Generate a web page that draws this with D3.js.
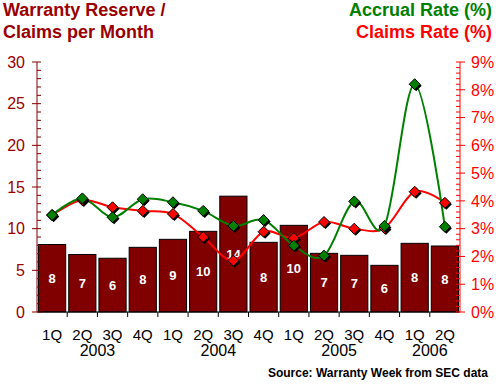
<!DOCTYPE html>
<html>
<head>
<meta charset="utf-8">
<script src="https://cdn.jsdelivr.net/npm/d3@7"></script>
<style>
body { margin: 0; background: #fff; }
svg { display: block; font-family: "Liberation Sans", Arial, sans-serif; }
</style>
</head>
<body>
<div id="chart"></div>
<script>
// data
var quarters = ["1Q","2Q","3Q","4Q","1Q","2Q","3Q","4Q","1Q","2Q","3Q","4Q","1Q","2Q"];
var years = ["2003","2004","2005","2006"];
var yearFirst = [0, 4, 8, 12];
var yearLast = [3, 7, 11, 13];
var reserveMonths = [8.1, 6.9, 6.45, 7.76, 8.72, 9.68, 13.9, 8.36, 10.4, 7.04, 6.8, 5.6, 8.24, 7.92];
var accrualRate = [3.49, 4.09, 3.41, 4.06, 3.95, 3.64, 3.10, 3.31, 2.39, 2.03, 3.98, 3.10, 8.20, 3.07];
var claimsRate = [3.49, 4.03, 3.77, 3.64, 3.53, 2.70, 1.85, 2.89, 2.66, 3.24, 3.00, 3.02, 4.33, 3.93];
var leftTicks = [0, 5, 10, 15, 20, 25, 30];
var rightTicks = [0, 1, 2, 3, 4, 5, 6, 7, 8, 9];

var width = 500, height = 385;
var plotLeft = 37, plotRight = 460, plotTop = 62, plotBottom = 312;

var svg = d3.select('#chart').append('svg')
  .attr("width", width)
  .attr("height", height);

var x = d3.scaleBand()
  .domain(d3.range(quarters.length))
  .range([plotLeft, plotRight])
  .paddingInner(0.1)
  .paddingOuter(0.05);
var step = x.step();
var cx = function(i){ return x(i) + x.bandwidth()/2; };

var yL = d3.scaleLinear().domain([0, 30]).range([plotBottom, plotTop]);
var yR = d3.scaleLinear().domain([0, 9]).range([plotBottom, plotTop]);

// bars
var bars = svg.append('g').selectAll('g')
  .data(reserveMonths)
  .enter()
  .append('g');

bars.append('rect')
  .attr("x", function(d, i){ return x(i); })
  .attr("y", function(d){ return yL(d); })
  .attr("width", x.bandwidth())
  .attr("height", function(d){ return plotBottom - yL(d); })
  .attr("fill", "#800000")
  .attr("stroke", "#000")
  .attr("stroke-width", 1);

bars.append('text')
  .text(function(d){ return Math.round(d); })
  .attr("x", function(d, i){ return cx(i); })
  .attr("y", function(d){ return (yL(d) + plotBottom)/2; })
  .attr("dy", "0.36em")
  .attr("text-anchor", "middle")
  .attr("font-weight", "bold")
  .attr("font-size", "13px")
  .attr("fill", "#fff");

// x axis line and ticks
svg.append('line')
  .attr("x1", plotLeft).attr("x2", plotRight)
  .attr("y1", plotBottom).attr("y2", plotBottom)
  .attr("stroke", "#000");

svg.append('g').selectAll('line')
  .data(d3.range(1, quarters.length))
  .enter()
  .append('line')
  .attr("x1", function(i){ return cx(i) - step/2; })
  .attr("x2", function(i){ return cx(i) - step/2; })
  .attr("y1", plotBottom)
  .attr("y2", plotBottom + 5)
  .attr("stroke", "#000");

svg.append('g').selectAll('text')
  .data(quarters)
  .enter()
  .append('text')
  .text(function(d){ return d; })
  .attr("x", function(d, i){ return cx(i); })
  .attr("y", 340)
  .attr("text-anchor", "middle")
  .attr("font-size", "15px")
  .attr("fill", "#000");

svg.append('g').selectAll('text')
  .data(years)
  .enter()
  .append('text')
  .text(function(d){ return d; })
  .attr("x", function(d, i){ return (cx(yearFirst[i]) + cx(yearLast[i]))/2; })
  .attr("y", 356)
  .attr("text-anchor", "middle")
  .attr("font-size", "16px")
  .attr("fill", "#000");

// left axis
var lAxis = svg.append('g');
lAxis.append('line')
  .attr("x1", plotLeft).attr("x2", plotLeft)
  .attr("y1", plotTop).attr("y2", plotBottom)
  .attr("stroke", "#800000");
lAxis.selectAll('line.tick')
  .data(d3.range(0, 31, 1))
  .enter()
  .append('line')
  .attr("class", "tick")
  .attr("x1", function(d){ return d % 5 == 0 ? plotLeft - 5 : plotLeft; })
  .attr("x2", plotLeft + 4)
  .attr("y1", function(d){ return yL(d); })
  .attr("y2", function(d){ return yL(d); })
  .attr("stroke", "#800000");
lAxis.selectAll('text')
  .data(leftTicks)
  .enter()
  .append('text')
  .text(function(d){ return d; })
  .attr("x", 25)
  .attr("y", function(d){ return yL(d); })
  .attr("dy", "0.36em")
  .attr("text-anchor", "end")
  .attr("font-size", "16px")
  .attr("fill", "#990000");

// right axis
var rAxis = svg.append('g');
rAxis.append('line')
  .attr("x1", plotRight).attr("x2", plotRight)
  .attr("y1", plotTop).attr("y2", plotBottom)
  .attr("stroke", "#ff0000");
rAxis.selectAll('line.tick')
  .data(d3.range(0, 46, 1))
  .enter()
  .append('line')
  .attr("class", "tick")
  .attr("x1", plotRight - 4)
  .attr("x2", function(d){ return d % 5 == 0 ? plotRight + 5 : plotRight; })
  .attr("y1", function(d){ return yR(d/5); })
  .attr("y2", function(d){ return yR(d/5); })
  .attr("stroke", "#ff0000");
rAxis.selectAll('text')
  .data(rightTicks)
  .enter()
  .append('text')
  .text(function(d){ return d + "%"; })
  .attr("x", 471)
  .attr("y", function(d){ return yR(d); })
  .attr("dy", "0.36em")
  .attr("font-size", "16px")
  .attr("fill", "#ff0000");

// rate lines
var line = d3.line()
  .x(function(d, i){ return cx(i); })
  .y(function(d){ return yR(d); })
  .curve(d3.curveCardinal);

svg.append('path')
  .attr("d", line(claimsRate))
  .attr("fill", "none")
  .attr("stroke", "#ff0000")
  .attr("stroke-width", 2);

svg.append('path')
  .attr("d", line(accrualRate))
  .attr("fill", "none")
  .attr("stroke", "#008000")
  .attr("stroke-width", 2);

var diamond = "M0,-5.5L5.5,0L0,5.5L-5.5,0Z";

function markers(values, color){
  var g = svg.append('g').selectAll('g')
    .data(values)
    .enter()
    .append('g')
    .attr("transform", function(d, i){ return "translate(" + cx(i) + "," + yR(d) + ")"; });
  g.append('path')
    .attr("d", diamond)
    .attr("transform", "translate(1.5,1.5)")
    .attr("fill", "#000");
  g.append('path')
    .attr("d", diamond)
    .attr("fill", color)
    .attr("stroke", "#000")
    .attr("stroke-width", 1);
}
markers(claimsRate, "#ff0000");
markers(accrualRate, "#008000");

// titles
var titleL = svg.append('text')
  .attr("font-size", "18px")
  .attr("font-weight", "bold")
  .attr("fill", "#990000");
titleL.append('tspan').attr("x", 3).attr("y", 16).text("Warranty Reserve /");
titleL.append('tspan').attr("x", 3).attr("y", 38).text("Claims per Month");

svg.append('text')
  .text("Accrual Rate (%)")
  .attr("x", 492).attr("y", 16)
  .attr("text-anchor", "end")
  .attr("font-size", "18px")
  .attr("font-weight", "bold")
  .attr("fill", "#008000");

svg.append('text')
  .text("Claims Rate (%)")
  .attr("x", 492).attr("y", 38)
  .attr("text-anchor", "end")
  .attr("font-size", "18px")
  .attr("font-weight", "bold")
  .attr("fill", "#ff0000");

svg.append('text')
  .text("Source: Warranty Week from SEC data")
  .attr("x", 488).attr("y", 377)
  .attr("text-anchor", "end")
  .attr("font-size", "12px")
  .attr("font-weight", "bold")
  .attr("fill", "#000");
</script>
</body>
</html>
